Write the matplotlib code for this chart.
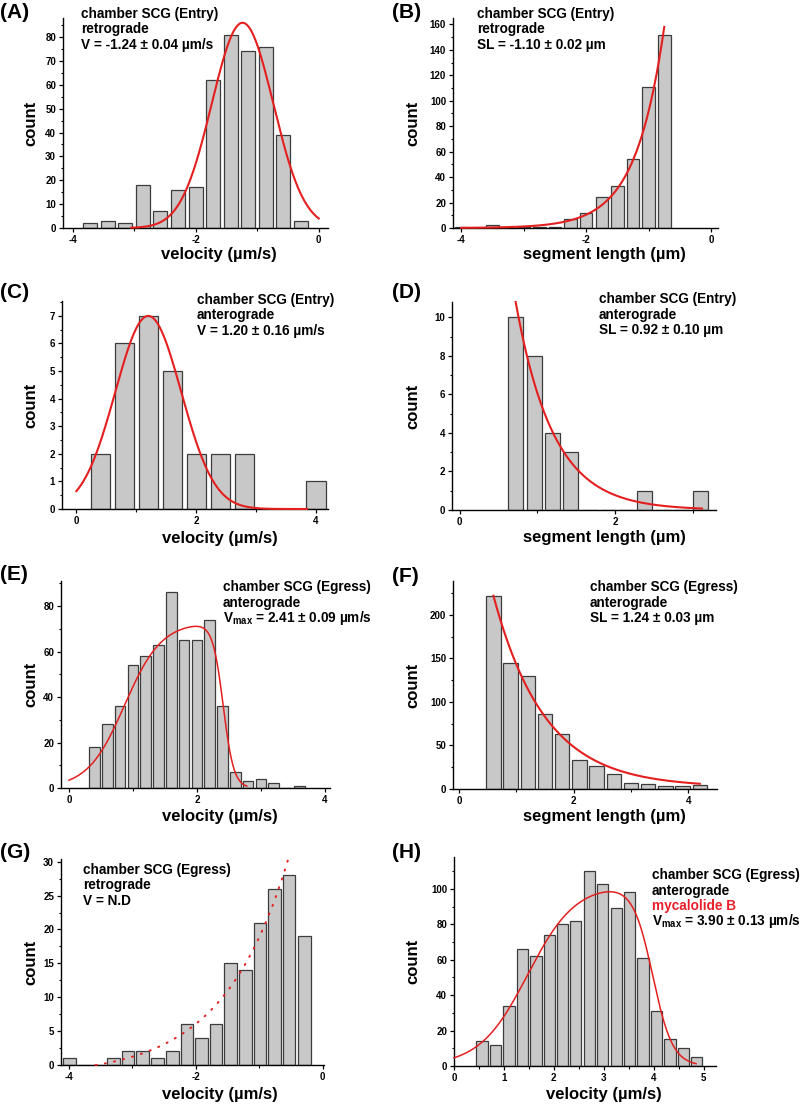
import numpy as np
import matplotlib
matplotlib.use("Agg")
import matplotlib.pyplot as plt
from matplotlib.ticker import MultipleLocator, FormatStrFormatter

# ---------------- data ----------------
a_centers = [-3.72, -3.43, -3.15, -2.86, -2.58, -2.29, -2.00, -1.72, -1.43, -1.15, -0.86, -0.58, -0.29]
a_counts = [2, 3, 2, 18, 7, 16, 17, 62, 81, 74, 76, 39, 3]
a_fit = [86, -1.24, 0.50]            # gaussian: amplitude, centre, sigma
a_fit_range = [-3.05, 0.0]

b_centers = [-4.0, -3.75, -3.5, -3.25, -3.0, -2.75, -2.5, -2.25, -2.0, -1.75, -1.5, -1.25, -1.0, -0.75]
b_counts = [1, 0, 2, 1, 1, 1, 1, 7, 12, 24, 33, 54, 111, 152]
b_fit = [158, -0.75, 0.46, 0.0]      # exponential: amplitude, x0, scale, offset
b_fit_range = [-4.0, -0.75]

c_centers = [0.4, 0.8, 1.2, 1.6, 2.0, 2.4, 2.8, 3.2, 3.6, 4.0]
c_counts = [2, 6, 7, 5, 2, 2, 2, 0, 0, 1]
c_fit = [7.0, 1.20, 0.55]
c_fit_range = [0.0, 3.85]

d_centers = [0.72, 0.96, 1.19, 1.43, 1.67, 1.91, 2.14, 2.38, 2.62, 2.86, 3.10]
d_counts = [10, 8, 4, 3, 0, 0, 0, 1, 0, 0, 1]
d_fit = [10.8, 0.72, -0.485, 0.0]
d_fit_range = [0.72, 3.12]

e_centers = [0.4, 0.6, 0.8, 1.0, 1.2, 1.4, 1.6, 1.8, 2.0, 2.2, 2.4, 2.6, 2.8, 3.0, 3.2, 3.4, 3.6]
e_counts = [18, 28, 36, 54, 58, 63, 86, 65, 65, 74, 36, 7, 3, 4, 2, 0, 1]
e_fit = [73, 0.87, 0.289, 2.41, 0.083]   # plateau: amplitude, rise centre, rise width, cut-off, fall width
e_fit_range = [0.0, 2.78]

f_centers = [0.6, 0.9, 1.2, 1.5, 1.8, 2.1, 2.4, 2.7, 3.0, 3.3, 3.6, 3.9, 4.2]
f_counts = [222, 145, 130, 86, 63, 33, 27, 17, 7, 6, 4, 3, 5]
f_fit = [220, 0.6, -0.9, 2.0]
f_fit_range = [0.6, 4.2]

g_centers = [-3.99, -3.76, -3.53, -3.30, -3.07, -2.84, -2.60, -2.37, -2.14, -1.91, -1.68,
             -1.45, -1.22, -0.99, -0.76, -0.53, -0.29]
g_counts = [1, 0, 0, 1, 2, 2, 1, 2, 6, 4, 6, 15, 14, 21, 26, 28, 19]
g_fit = [31.1, -0.576, 1 / 0.975, -1.7]
g_fit_range = [-3.58, -0.55]

h_centers = [0.56, 0.83, 1.10, 1.37, 1.64, 1.91, 2.17, 2.44, 2.71, 2.98, 3.25, 3.52, 3.79,
             4.06, 4.33, 4.60, 4.86]
h_counts = [14, 12, 34, 66, 62, 74, 80, 82, 110, 103, 89, 98, 61, 31, 15, 10, 5]
h_fit = [103, 1.475, 0.482, 3.98, 0.20]
h_fit_range = [0.0, 4.85]

a_text = ["chamber SCG (Entry)", "retrograde", "V = -1.24 ± 0.04 µm/s"]
b_text = ["chamber SCG (Entry)", "retrograde", "SL = -1.10 ± 0.02 µm"]
c_text = ["chamber SCG (Entry)", "anterograde", "V = 1.20 ± 0.16 µm/s"]
d_text = ["chamber SCG (Entry)", "anterograde", "SL = 0.92 ± 0.10 µm"]
e_text = ["chamber SCG (Egress)", "anterograde", r"V$_{\mathregular{max}}$ = 2.41 ± 0.09 µm/s"]
f_text = ["chamber SCG (Egress)", "anterograde", "SL = 1.24 ± 0.03 µm"]
g_text = ["chamber SCG (Egress)", "retrograde", "V = N.D"]
h_text = ["chamber SCG (Egress)", "anterograde", "mycalolide B", r"V$_{\mathregular{max}}$ = 3.90 ± 0.13 µm/s"]
h_text_colors = ["black", "black", "#e8202a", "black"]

# ---------------- fit curve models ----------------
def gauss(x, p):
    A, mu, s = p
    return A * np.exp(-(x - mu) ** 2 / (2 * s ** 2))

def expo(x, p):
    A, x0, t, y0 = p
    return y0 + A * np.exp((x - x0) / t)

def plateau(x, p):
    A, x1, w1, x2, w2 = p
    return A / (1 + np.exp(-(x - x1) / w1)) / (1 + np.exp((x - x2) / w2))

# ---------------- style ----------------
plt.rcParams.update({
    "font.family": ["Liberation Sans", "DejaVu Sans"],
    "font.weight": "bold",
    "axes.unicode_minus": False,
    "mathtext.default": "regular",
})
W, H = 800, 1104
fig = plt.figure(figsize=(W / 100, H / 100), dpi=100)
RED = "#e3201f"
BAR = "#c8c8c8"
EDGE = "#3c3c3c"


def add_ax(L, T, R, B):
    return fig.add_axes([L / W, 1 - B / H, (R - L) / W, (B - T) / H])


def panel(box, centers, counts, width, xlim, ylim, xmaj, ymaj, xlabel,
          fitfun, fitp, fitrange, label_px, fit_lw=1.5, dotted=False):
    L, T, R, B = box
    ax = add_ax(L, T, R, B)
    ax.bar(centers, counts, width=width, color=BAR, edgecolor=EDGE, linewidth=0.9, zorder=2)
    xs = np.linspace(fitrange[0], fitrange[1], 400)
    ys = np.clip(fitfun(xs, fitp), 0, None)
    if dotted:
        ax.plot(xs, ys, color=RED, lw=1.4, linestyle=(0, (0.6, 4.2)),
                dash_capstyle="round", zorder=3, clip_on=False)
    else:
        ax.plot(xs, ys, color=RED, lw=fit_lw, zorder=3, clip_on=False)
    ax.set_xlim(*xlim)
    ax.set_ylim(*ylim)
    for s in ("top", "right"):
        ax.spines[s].set_visible(False)
    for s in ("left", "bottom"):
        ax.spines[s].set_linewidth(1.0)
    ax.xaxis.set_major_locator(MultipleLocator(xmaj))
    ax.xaxis.set_minor_locator(MultipleLocator(xmaj / 2))
    ax.yaxis.set_major_locator(MultipleLocator(ymaj))
    ax.yaxis.set_minor_locator(MultipleLocator(ymaj / 2))
    ax.xaxis.set_major_formatter(FormatStrFormatter("%d"))
    ax.yaxis.set_major_formatter(FormatStrFormatter("%d"))
    ax.tick_params(which="major", direction="out", length=3, width=0.9,
                   labelsize=7, pad=2)
    ax.tick_params(which="minor", direction="out", length=1.8, width=0.8)
    for lab in ax.get_xticklabels() + ax.get_yticklabels():
        lab.set_fontweight("bold")
    ax.set_xlabel(xlabel, fontsize=12, fontweight="bold")
    ax.set_ylabel("count", fontsize=12, fontweight="bold")
    xc, yc, xl = label_px
    ax.xaxis.set_label_coords((xc - L) / (R - L), -(yc - B) / (B - T))
    ax.xaxis.label.set_verticalalignment("center")
    ax.yaxis.set_label_coords((xl - L) / (R - L), 0.5)
    ax.yaxis.label.set_verticalalignment("center")
    return ax


def texts(x, y0, lines, colors=None, step=15.5):
    for i, s in enumerate(lines):
        c = colors[i] if colors else "black"
        fig.text(x / W, 1 - (y0 + i * step) / H, s, ha="left", va="center",
                 fontsize=9.8, fontweight="bold", color=c)


def plabel(x, y, s):
    fig.text(x / W, 1 - y / H, s, ha="left", va="center", fontsize=15, fontweight="bold")


VEL = "velocity (µm/s)"
SEG = "segment length (µm)"

panel((63, 18, 328, 228), a_centers, a_counts, 0.233, (-4.16, 0.15), (0, 88), 2, 10, VEL,
      gauss, a_fit, a_fit_range, (219, 255, 31))
panel((453, 18, 718, 228), b_centers, b_counts, 0.20, (-4.13, 0.11), (0, 165), 2, 20, SEG,
      expo, b_fit, b_fit_range, (604, 255, 413))
panel((62, 301, 328, 509), c_centers, c_counts, 0.32, (-0.24, 4.2), (0, 7.54), 2, 1, VEL,
      gauss, c_fit, c_fit_range, (220, 538, 31))
panel((452, 302, 716, 510), d_centers, d_counts, 0.19, (-0.10, 3.30), (0, 10.8), 2, 2, SEG,
      expo, d_fit, d_fit_range, (604, 538, 413))
panel((61, 581, 330, 788), e_centers, e_counts, 0.165, (-0.125, 4.08), (0, 91), 2, 20, VEL,
      plateau, e_fit, e_fit_range, (220, 817, 31), fit_lw=1.1)
panel((453, 581, 717, 789), f_centers, f_counts, 0.25, (-0.105, 4.5), (0, 239), 2, 50, SEG,
      expo, f_fit, f_fit_range, (604, 817, 413))
panel((61, 859, 324, 1065), g_centers, g_counts, 0.20, (-4.125, 0.02), (0, 30.4), 2, 5, VEL,
      expo, g_fit, g_fit_range, (220, 1094, 31), dotted=True)
panel((454, 857, 716, 1066), h_centers, h_counts, 0.227, (0, 5.25), (0, 118), 1, 20, VEL,
      plateau, h_fit, h_fit_range, (604, 1094, 413), fit_lw=1.1)

texts(81, 14, a_text)
texts(477, 14, b_text)
texts(197, 300, c_text)
texts(599, 299, d_text)
texts(223, 587, e_text)
texts(590, 587, f_text)
texts(83, 870, g_text)
texts(652, 875, h_text, h_text_colors)

plabel(0, 12, "(A)")
plabel(392, 12, "(B)")
plabel(0, 292, "(C)")
plabel(392, 292, "(D)")
plabel(0, 574, "(E)")
plabel(392, 576, "(F)")
plabel(0, 853, "(G)")
plabel(392, 853, "(H)")

fig.savefig("out.png", dpi=100)
